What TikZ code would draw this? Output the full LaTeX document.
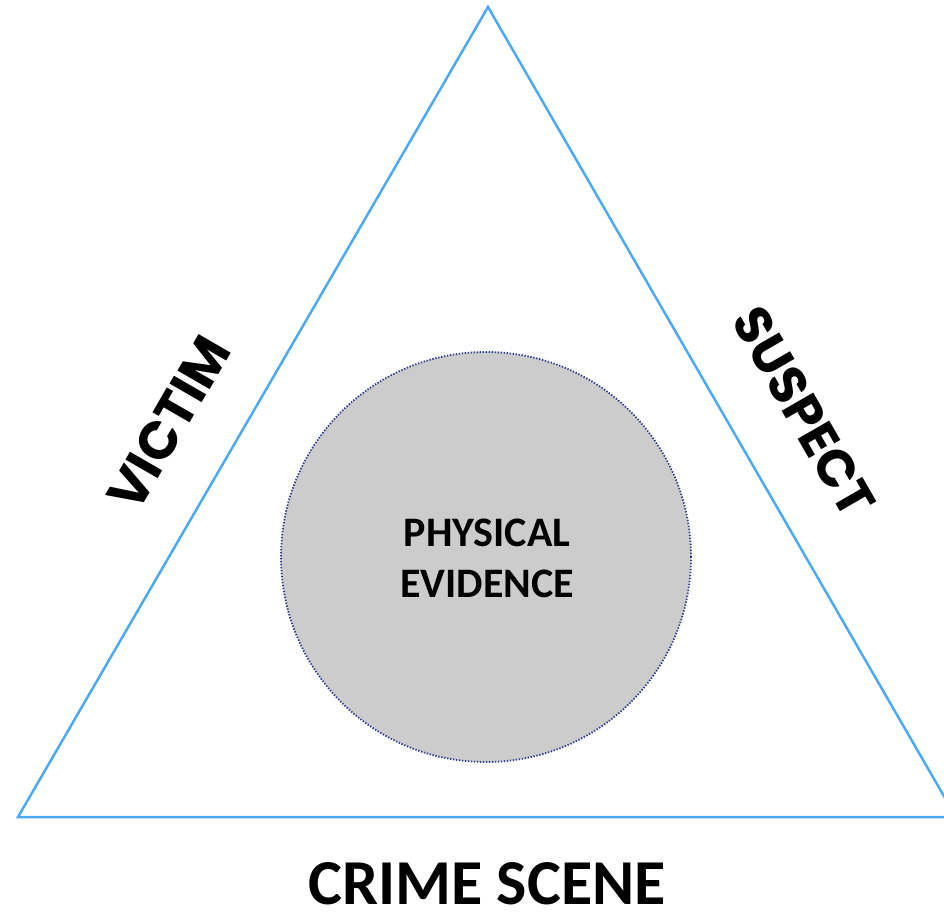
\documentclass[tikz,border=0pt]{standalone}
\usepackage{fontspec}
\setmainfont{Carlito}
\newfontfamily\geofont{Poppins}
\definecolor{triblue}{HTML}{4DAAF2}
\definecolor{circgray}{HTML}{CCCCCC}
\definecolor{dotblue}{HTML}{2E3D8F}
\tikzset{
  side/.style={draw=triblue, line width=2.5pt, line join=miter},
  bigtxt/.style={font=\bfseries\fontsize{64}{70}\selectfont, inner sep=0pt},
  victxt/.style={font=\geofont\bfseries\fontsize{53}{55}\selectfont, inner sep=0pt},
  sustxt/.style={font=\geofont\bfseries\fontsize{52}{55}\selectfont, inner sep=0pt},
  midtxt/.style={font=\bfseries\fontsize{42}{51}\selectfont, align=center, inner sep=0pt},
}
\begin{document}
\begin{tikzpicture}[x=1pt,y=-1pt]
\useasboundingbox (0,0) rectangle (944,913);
\clip (0,0) rectangle (944,913);
\coordinate (apex) at (488,7);
\coordinate (bl) at (18,817);
\coordinate (br) at (956,817);
\draw[side] (apex) -- (br) -- (bl) -- cycle;
\node[circle, minimum size=410pt, fill=circgray, draw=dotblue, line width=1.8pt, dash pattern=on 1.4pt off 1.6pt] (ev) at (486,557) {};
\node[midtxt] (evt) at (487,558) {PHYSICAL\\EVIDENCE};
\node[victxt, rotate=60] (victim) at (169,423) {VICTIM};
\node[sustxt, rotate=-60] (suspect) at (804,412) {SUSPECT};
\node[bigtxt, anchor=base] (crime) at (487,904) {CRIME SCENE};
\end{tikzpicture}
\end{document}
